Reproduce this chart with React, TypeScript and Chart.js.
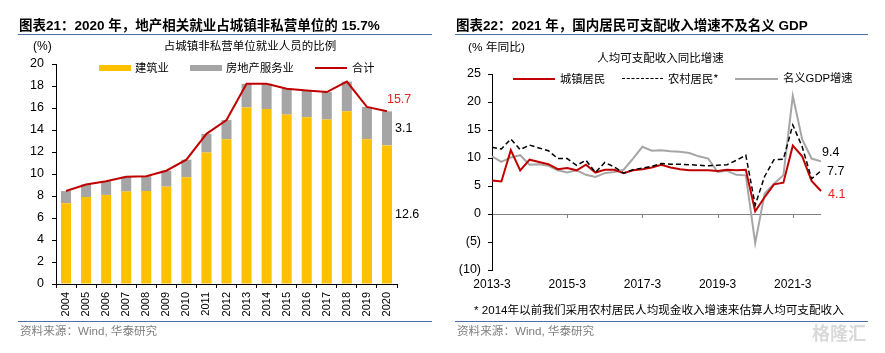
import React, { useEffect, useRef } from 'react';
import { Chart, registerables } from 'chart.js';

Chart.register(...registerables);

// ---------- Left chart data ----------
const years = ['2004', '2005', '2006', '2007', '2008', '2009', '2010', '2011', '2012', '2013', '2014', '2015', '2016', '2017', '2018', '2019', '2020'];
const construction = [7.35, 7.9, 8.1, 8.4, 8.45, 8.85, 9.7, 11.95, 13.15, 16.05, 15.9, 15.4, 15.15, 14.95, 15.7, 13.15, 12.6];
const realEstateServices = [1.1, 1.15, 1.25, 1.35, 1.35, 1.45, 1.6, 1.7, 1.75, 2.15, 2.3, 2.35, 2.45, 2.5, 2.7, 2.95, 3.1];
const totalShare = [8.45, 9.05, 9.35, 9.75, 9.8, 10.3, 11.3, 13.65, 14.9, 18.2, 18.2, 17.75, 17.6, 17.45, 18.4, 16.1, 15.7];

// ---------- Right chart data ----------
const quarters = [
  '2013-3', '2013-6', '2013-9', '2013-12', '2014-3', '2014-6', '2014-9', '2014-12',
  '2015-3', '2015-6', '2015-9', '2015-12', '2016-3', '2016-6', '2016-9', '2016-12',
  '2017-3', '2017-6', '2017-9', '2017-12', '2018-3', '2018-6', '2018-9', '2018-12',
  '2019-3', '2019-6', '2019-9', '2019-12', '2020-3', '2020-6', '2020-9', '2020-12',
  '2021-3', '2021-6', '2021-9', '2021-12',
];
const urbanIncome = [6.0, 5.8, 11.4, 7.8, 9.7, 9.3, 8.9, 8.0, 8.2, 7.8, 8.8, 7.4, 7.9, 7.9, 7.3, 7.8, 8.0, 8.3, 8.8, 8.3, 8.0, 7.8, 7.8, 7.8, 7.7, 7.9, 7.8, 7.9, 0.5, 3.0, 5.3, 5.6, 12.2, 10.3, 5.9, 4.1];
const ruralIncome = [11.9, 11.6, 13.4, 11.5, 12.3, 11.8, 11.3, 9.9, 9.9, 8.7, 9.6, 7.4, 9.2, 8.4, 7.3, 7.9, 8.2, 8.5, 9.0, 8.9, 8.9, 8.8, 8.7, 8.6, 8.7, 8.8, 9.6, 10.5, 1.6, 6.7, 9.7, 9.8, 15.9, 12.0, 6.3, 7.7];
const nominalGDP = [10.3, 9.3, 10.1, 10.5, 8.8, 8.9, 8.6, 7.8, 7.4, 7.8, 7.0, 6.6, 7.3, 7.5, 7.9, 9.9, 12.0, 11.3, 11.4, 11.2, 11.1, 10.9, 10.3, 9.9, 7.5, 7.7, 7.0, 6.9, -5.2, 3.6, 5.4, 6.9, 21.1, 13.3, 9.9, 9.4];
const quarterTickEvery = 8;

const LATIN = '"Liberation Sans", Arial, "Noto Sans CJK SC", sans-serif';
const CJK = '"Noto Sans CJK SC", "Liberation Sans", sans-serif';
const MIX = '"Liberation Sans", "Noto Sans CJK SC", sans-serif';

const leftLabelsPlugin = {
  id: 'leftLabels',
  afterDatasetsDraw(chart: any) {
    const ctx = chart.ctx;
    const n = years.length - 1;
    const yb: any = chart.getDatasetMeta(0).data[n];
    const gb: any = chart.getDatasetMeta(1).data[n];
    const lp: any = chart.getDatasetMeta(2).data[n];
    ctx.save();
    ctx.font = `12.5px ${LATIN}`;
    ctx.textBaseline = 'middle';
    ctx.textAlign = 'left';
    ctx.fillStyle = '#000';
    ctx.fillText(construction[n].toFixed(1), yb.x + yb.width / 2 + 3, (yb.y + yb.base) / 2);
    ctx.fillText(realEstateServices[n].toFixed(1), gb.x + gb.width / 2 + 3, (gb.y + gb.base) / 2);
    ctx.fillStyle = '#E5231F';
    ctx.fillText(totalShare[n].toFixed(1), lp.x, lp.y - 12);
    ctx.restore();
  },
};

const rightLabelsPlugin = {
  id: 'rightLabels',
  afterDatasetsDraw(chart: any) {
    const ctx = chart.ctx;
    const n = quarters.length - 1;
    const red: any = chart.getDatasetMeta(0).data[n];
    const dash: any = chart.getDatasetMeta(1).data[n];
    const gray: any = chart.getDatasetMeta(2).data[n];
    ctx.save();
    ctx.font = `12.5px ${LATIN}`;
    ctx.textBaseline = 'middle';
    ctx.textAlign = 'left';
    ctx.fillStyle = '#000';
    ctx.fillText(nominalGDP[n].toFixed(1), gray.x + 1, gray.y - 9);
    ctx.fillText(ruralIncome[n].toFixed(1), dash.x + 6, dash.y + 1);
    ctx.fillStyle = '#E5231F';
    ctx.fillText(urbanIncome[n].toFixed(1), red.x + 7, red.y + 4);
    ctx.restore();
  },
};

const zeroTicksPlugin = {
  id: 'zeroTicks',
  afterDraw(chart: any) {
    const ctx = chart.ctx;
    const xs = chart.scales.x;
    const y0 = chart.scales.y.getPixelForValue(0);
    ctx.save();
    ctx.strokeStyle = '#808080';
    ctx.lineWidth = 1;
    for (let i = quarterTickEvery; i < quarters.length; i += quarterTickEvery) {
      const x = Math.round(xs.getPixelForValue(i)) + 0.5;
      ctx.beginPath();
      ctx.moveTo(x, y0);
      ctx.lineTo(x, y0 + 4);
      ctx.stroke();
    }
    ctx.restore();
  },
};

function LeftChart() {
  const ref = useRef<HTMLCanvasElement>(null);
  useEffect(() => {
    const chart = new Chart(ref.current!, {
      type: 'bar',
      data: {
        labels: years,
        datasets: [
          { type: 'bar', label: '建筑业', data: construction, backgroundColor: '#FFC000', stack: 'a', order: 1, barPercentage: 1, categoryPercentage: 0.5 },
          { type: 'bar', label: '房地产服务业', data: realEstateServices, backgroundColor: '#A5A5A5', stack: 'a', order: 1, barPercentage: 1, categoryPercentage: 0.5 },
          { type: 'line', label: '合计', data: totalShare, borderColor: '#C00000', borderWidth: 2, pointRadius: 0, tension: 0, stack: 'line', order: 0 } as any,
        ],
      },
      options: {
        animation: false,
        responsive: false,
        layout: { padding: { top: 64, right: 43, left: 0, bottom: 0 } },
        plugins: { legend: { display: false }, tooltip: { enabled: false } },
        scales: {
          x: {
            stacked: true,
            offset: true,
            grid: { display: true, drawOnChartArea: false, drawTicks: true, tickLength: 4, tickColor: '#000', offset: true },
            border: { display: true, color: '#000' },
            ticks: { font: { size: 11, family: LATIN }, color: '#000', maxRotation: 90, minRotation: 90, padding: 4, autoSkip: false },
            afterFit(s: any) { s.height = 69; },
          },
          y: {
            stacked: true,
            min: 0,
            max: 20,
            grid: { display: true, drawOnChartArea: false, drawTicks: true, tickLength: 4, tickColor: '#000' },
            border: { display: true, color: '#000' },
            ticks: { stepSize: 2, font: { size: 12.5, family: LATIN }, color: '#000', padding: 8 },
            afterFit(s: any) { s.width = 56; },
          },
        },
      },
      plugins: [leftLabelsPlugin],
    });
    return () => chart.destroy();
  }, []);
  return <canvas ref={ref} width={440} height={353} style={{ position: 'absolute', left: 0, top: 0 }} />;
}

function RightChart() {
  const ref = useRef<HTMLCanvasElement>(null);
  useEffect(() => {
    const chart = new Chart(ref.current!, {
      type: 'line',
      data: {
        labels: quarters,
        datasets: [
          { label: '城镇居民', data: urbanIncome, borderColor: '#C00000', borderWidth: 2, pointRadius: 0, tension: 0, order: 2 },
          { label: '农村居民*', data: ruralIncome, borderColor: '#000000', borderWidth: 1.5, borderDash: [5, 3], pointRadius: 0, tension: 0, order: 1 },
          { label: '名义GDP增速', data: nominalGDP, borderColor: '#A6A6A6', borderWidth: 2, pointRadius: 0, tension: 0, order: 3 },
        ],
      },
      options: {
        animation: false,
        responsive: false,
        layout: { padding: { top: 74, right: 64, left: 0, bottom: 0 } },
        plugins: { legend: { display: false }, tooltip: { enabled: false } },
        scales: {
          x: {
            offset: false,
            grid: { display: false, drawTicks: false },
            border: { display: false },
            ticks: {
              autoSkip: false, maxRotation: 0, minRotation: 0, padding: 7,
              font: { size: 12, family: LATIN }, color: '#000',
              callback: (_v: any, i: number) => (i % quarterTickEvery === 0 ? quarters[i] : ''),
            },
            afterFit(s: any) { s.height = 83; },
          },
          y: {
            min: -10,
            max: 25,
            grid: {
              display: true,
              drawOnChartArea: true,
              drawTicks: true,
              tickLength: 4,
              tickColor: '#000',
              color: (c: any) => (c.tick && c.tick.value === 0 ? '#808080' : 'rgba(0,0,0,0)'),
            },
            border: { display: true, color: '#000' },
            ticks: {
              stepSize: 5, padding: 7, font: { size: 12.5, family: LATIN }, color: '#000',
              callback: (v: any) => (Number(v) < 0 ? `(${-Number(v)})` : `${v}`),
            },
            afterFit(s: any) { s.width = 47; },
          },
        },
      },
      plugins: [rightLabelsPlugin, zeroTicksPlugin],
    });
    return () => chart.destroy();
  }, []);
  return <canvas ref={ref} width={440} height={353} style={{ position: 'absolute', left: 445, top: 0 }} />;
}

function T(props: { x: number; y: number; size: number; children: any; color?: string; weight?: number; center?: boolean; family?: string }) {
  const { x, y, size, children, color = '#000', weight = 400, center = false, family = MIX } = props;
  return (
    <div
      style={{
        position: 'absolute', left: x, top: y, fontSize: size, fontFamily: family, fontWeight: weight, color,
        lineHeight: 1, whiteSpace: 'nowrap', transform: center ? 'translate(-50%, -50%)' : 'translate(0, -50%)',
      }}
    >
      {children}
    </div>
  );
}

function HLine(props: { x: number; y: number; w: number; color: string; h?: number; dashed?: boolean }) {
  const { x, y, w, color, h = 1, dashed = false } = props;
  return (
    <div
      style={{
        position: 'absolute', left: x, top: y - h / 2, width: w, height: dashed ? 0 : h,
        background: dashed ? 'transparent' : color, borderTop: dashed ? `${h}px dashed ${color}` : 'none',
      }}
    />
  );
}

function Box(props: { x: number; y: number; w: number; h: number; color: string }) {
  const { x, y, w, h, color } = props;
  return <div style={{ position: 'absolute', left: x, top: y - h / 2, width: w, height: h, background: color }} />;
}

export default function App() {
  return (
    <div style={{ position: 'absolute', left: 0, top: 0, width: 885, height: 353, background: '#fff', overflow: 'hidden' }}>
      <LeftChart />
      <RightChart />

      {/* Left panel texts */}
      <T x={19} y={26} size={13.5} weight={700}>图表21：2020 年，地产相关就业占城镇非私营单位的 15.7%</T>
      <HLine x={18} y={34} w={414} color="#4E6EA6" />
      <T x={33} y={46} size={12} family={LATIN}>(%)</T>
      <T x={250} y={46} size={11.5} center family={CJK}>占城镇非私营单位就业人员的比例</T>
      <Box x={99} y={68} w={32} h={6} color="#FFC000" />
      <T x={135} y={68} size={11.3} family={CJK}>建筑业</T>
      <Box x={190} y={68} w={32} h={6} color="#A5A5A5" />
      <T x={226} y={68} size={11.3} family={CJK}>房地产服务业</T>
      <HLine x={315} y={68} w={32} h={2} color="#C00000" />
      <T x={352} y={68} size={11.3} family={CJK}>合计</T>
      <HLine x={18} y={321.5} w={414} color="#4E6EA6" />
      <T x={20} y={331} size={11.6} color="#7F7F7F">资料来源：Wind, 华泰研究</T>

      {/* Right panel texts */}
      <T x={456} y={26} size={13.5} weight={700}>图表22：2021 年，国内居民可支配收入增速不及名义 GDP</T>
      <HLine x={455} y={34} w={413} color="#4E6EA6" />
      <T x={468} y={48} size={11.8}>(% 年同比)</T>
      <T x={660.5} y={57.5} size={11.5} center family={CJK}>人均可支配收入同比增速</T>
      <HLine x={513} y={79} w={42} h={2} color="#C00000" />
      <T x={560} y={79} size={11.3} family={CJK}>城镇居民</T>
      <HLine x={622} y={79} w={41} h={1.5} color="#000" dashed />
      <T x={668} y={79} size={11.3} family={CJK}>农村居民*</T>
      <HLine x={735} y={79} w={43} h={2} color="#A6A6A6" />
      <T x={783} y={79} size={11.3}>名义GDP增速</T>
      <T x={474} y={310} size={11.6}>* 2014年以前我们采用农村居民人均现金收入增速来估算人均可支配收入</T>
      <HLine x={455} y={321} w={413} color="#4E6EA6" />
      <T x={457} y={331} size={11.6} color="#7F7F7F">资料来源：Wind, 华泰研究</T>
      <T x={812} y={334} size={18} weight={700} color="#D9D9D9">格隆汇</T>
    </div>
  );
}
